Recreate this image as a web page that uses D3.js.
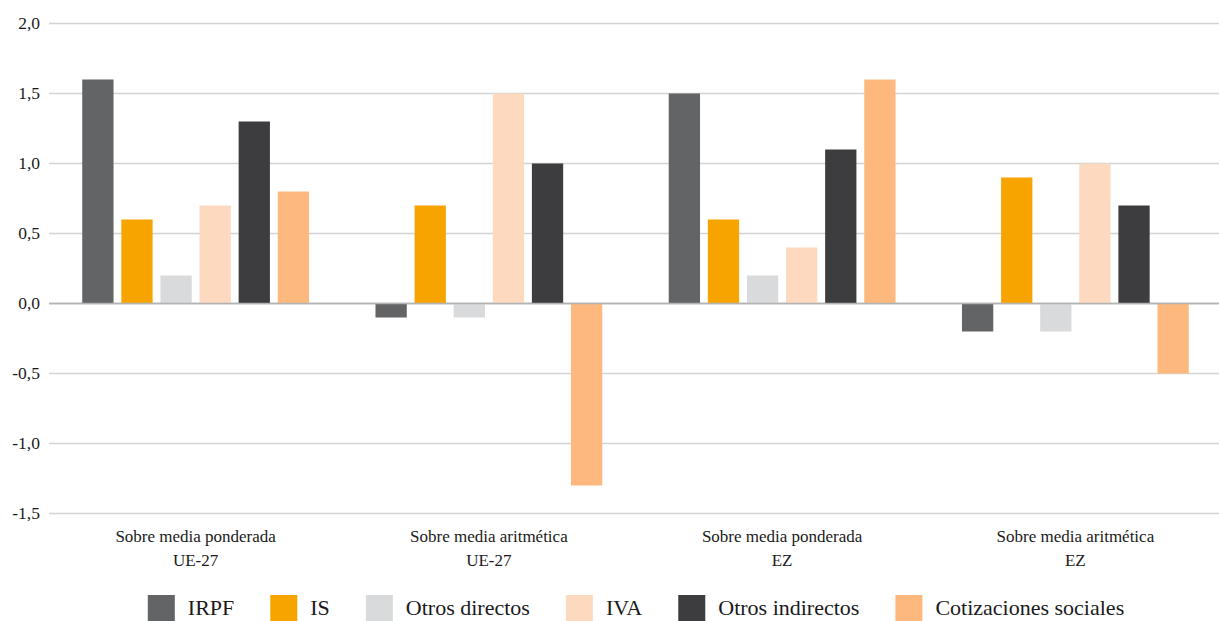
<!DOCTYPE html>
<html>
<head>
<meta charset="utf-8">
<script src="https://cdn.jsdelivr.net/npm/d3@7"></script>
<style>
  html, body { margin: 0; padding: 0; background: #fff; }
  svg { display: block; }
  svg text { font-family: "Liberation Serif", "DejaVu Serif", "Noto Serif", "Times New Roman", Times, serif; }
</style>
</head>
<body>
<svg id="chart" width="1219" height="621"></svg>
<script>
// Groups (two-line labels) and tax series
const groups = [
  ["Sobre media ponderada", "UE-27"],
  ["Sobre media aritmética", "UE-27"],
  ["Sobre media ponderada", "EZ"],
  ["Sobre media aritmética", "EZ"]
];
const seriesNames = ["IRPF", "IS", "Otros directos", "IVA", "Otros indirectos", "Cotizaciones sociales"];
const seriesColors = ["#636466", "#f7a400", "#d9dadc", "#fdd9bf", "#3d3d3f", "#fdb97d"];

// One array per series, one value per group
const irpf            = [1.6, -0.1, 1.5, -0.2];
const is              = [0.6,  0.7, 0.6,  0.9];
const otrosDirectos   = [0.2, -0.1, 0.2, -0.2];
const iva             = [0.7,  1.5, 0.4,  1.0];
const otrosIndirectos = [1.3,  1.0, 1.1,  0.7];
const cotizaciones    = [0.8, -1.3, 1.6, -0.5];
const seriesValues = [irpf, is, otrosDirectos, iva, otrosIndirectos, cotizaciones];

const yTicks = [-1.5, -1.0, -0.5, 0, 0.5, 1.0, 1.5, 2.0];

const FONT = '"Liberation Serif", "DejaVu Serif", "Noto Serif", "Times New Roman", Times, serif';

const svg = d3.select("#chart");
const plot = { left: 49, right: 1222, top: 23.5, bottom: 513.5 };

const y = d3.scaleLinear().domain([-1.5, 2.0]).range([plot.bottom, plot.top]);
const x0 = d3.scaleBand().domain(d3.range(groups.length)).range([plot.left, plot.right]).padding(0);
const x1 = d3.scaleBand().domain(d3.range(seriesNames.length)).range([0, x0.bandwidth()])
  .paddingInner(0.2).paddingOuter(0.85);

const fmt = v => d3.format(".1f")(v).replace(".", ",").replace("−", "-");

// Gridlines
svg.append("g").selectAll("line").data(yTicks).join("line")
  .attr("x1", plot.left).attr("x2", 1219)
  .attr("y1", d => y(d)).attr("y2", d => y(d))
  .attr("stroke", d => d === 0 ? "#b3b3b3" : "#d3d3d3")
  .attr("stroke-width", 1.3);

// Y tick labels
svg.append("g").selectAll("text").data(yTicks).join("text")
  .attr("x", 40).attr("y", d => y(d)).attr("dy", "0.32em")
  .attr("text-anchor", "end")
  .attr("font-family", FONT)
  .attr("font-size", 17.5).attr("fill", "#1a1a1a")
  .text(fmt);

// Bars
const gGroups = svg.append("g").selectAll("g").data(groups).join("g")
  .attr("transform", (d, i) => `translate(${x0(i)},0)`);
gGroups.selectAll("rect")
  .data((d, gi) => seriesValues.map((vals, si) => ({ si, v: vals[gi] })))
  .join("rect")
  .attr("x", d => x1(d.si))
  .attr("width", x1.bandwidth())
  .attr("y", d => y(Math.max(0, d.v)))
  .attr("height", d => Math.abs(y(d.v) - y(0)))
  .attr("fill", d => seriesColors[d.si]);

// Redraw zero line over the bars
svg.append("line")
  .attr("x1", plot.left).attr("x2", 1219)
  .attr("y1", y(0)).attr("y2", y(0))
  .attr("stroke", "#b3b3b3").attr("stroke-width", 1.3);

// Category labels
const cat = svg.append("g").selectAll("text").data(groups).join("text")
  .attr("text-anchor", "middle")
  .attr("font-family", FONT)
  .attr("font-size", 17).attr("fill", "#1a1a1a")
  .attr("x", (d, i) => x0(i) + x0.bandwidth() / 2);
cat.append("tspan").attr("x", (d, i) => x0(i) + x0.bandwidth() / 2).attr("y", 542).text(d => d[0]);
cat.append("tspan").attr("x", (d, i) => x0(i) + x0.bandwidth() / 2).attr("y", 566).text(d => d[1]);

// Legend
const legend = svg.append("g");
const swatch = 27, swGap = 13, itemGap = 36, legendFont = 22;
const items = legend.selectAll("g").data(seriesNames).join("g");
items.append("rect")
  .attr("width", swatch).attr("height", swatch)
  .attr("y", 595)
  .attr("fill", (d, i) => seriesColors[i]);
items.append("text")
  .attr("x", swatch + swGap).attr("y", 615)
  .attr("font-family", FONT)
  .attr("font-size", legendFont).attr("fill", "#1a1a1a")
  .text(d => d);
let widths = [];
items.each(function () { widths.push(this.getBBox().width); });
const total = d3.sum(widths) + itemGap * (widths.length - 1);
let cx = 636 - total / 2;
items.attr("transform", (d, i) => {
  const t = `translate(${cx},0)`;
  cx += widths[i] + itemGap;
  return t;
});
</script>
</body>
</html>
